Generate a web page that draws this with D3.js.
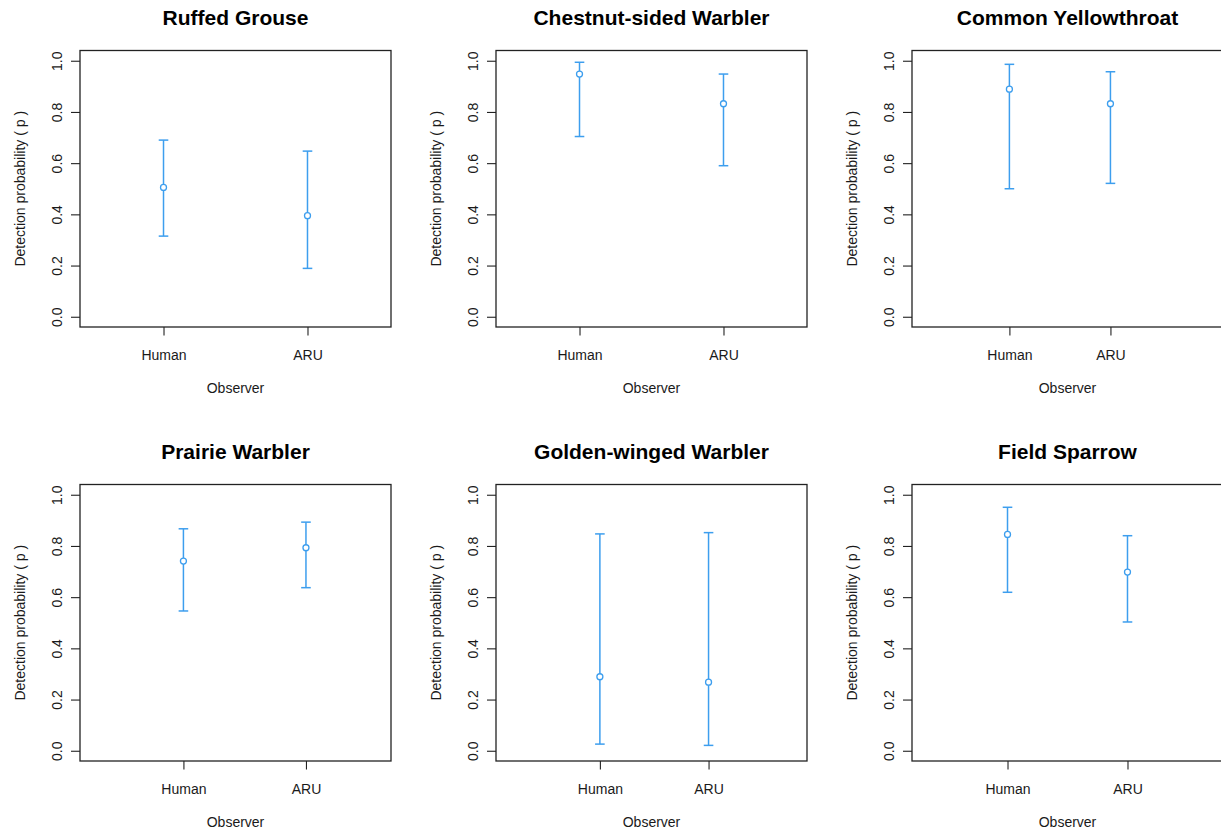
<!DOCTYPE html>
<html>
<head>
<meta charset="utf-8">
<script src="https://cdn.jsdelivr.net/npm/d3@7"></script>
<style>
  html, body { margin: 0; padding: 0; background: #ffffff; }
  svg { display: block; }
  text { font-family: "Liberation Sans", Arial, sans-serif; fill: #1a1a1a; }
</style>
</head>
<body>
<svg id="chart" width="1221" height="834"></svg>
<script>
// Detection probability estimates with confidence limits, per species and observer type
const species = [
  "Ruffed Grouse", "Chestnut-sided Warbler", "Common Yellowthroat",
  "Prairie Warbler", "Golden-winged Warbler", "Field Sparrow"
];
const observers = ["Human", "ARU"];
const estimates = [
  [0.505, 0.395],
  [0.948, 0.832],
  [0.889, 0.832],
  [0.741, 0.793],
  [0.289, 0.268],
  [0.845, 0.698]
];
const lowerCI = [
  [0.315, 0.189],
  [0.704, 0.590],
  [0.500, 0.521],
  [0.546, 0.637],
  [0.026, 0.021],
  [0.619, 0.503]
];
const upperCI = [
  [0.690, 0.647],
  [0.994, 0.948],
  [0.986, 0.957],
  [0.867, 0.893],
  [0.847, 0.852],
  [0.951, 0.840]
];
// x-limits of each panel (observer positions are 1 and 2)
const xLimits = [
  [0.5, 2.5], [0.5, 2.5], [0.15, 3.0],
  [0.25, 2.6], [0.15, 2.8], [0.3, 2.7]
];
const yTicks = [0, 0.2, 0.4, 0.6, 0.8, 1.0];
const yLimits = [0, 1];

const svg = d3.select("#chart");
svg.append("rect").attr("width", 1221).attr("height", 834).attr("fill", "#ffffff");

const colStep = 416, rowStep = 434;
const boxLeft0 = 80, boxTop0 = 50.5;
const boxW = 311, boxH = 276.5;
const markColor = "#3d9eee";
const fontSize = 14;

// extend a range by 4% on each side, like base graphics
function padded(lim) {
  const r = lim[1] - lim[0];
  return [lim[0] - 0.04 * r, lim[1] + 0.04 * r];
}

species.forEach((name, i) => {
  const col = i % 3, row = Math.floor(i / 3);
  const left = boxLeft0 + col * colStep;
  const top = boxTop0 + row * rowStep;

  const x = d3.scaleLinear().domain(padded(xLimits[i])).range([left, left + boxW]);
  const y = d3.scaleLinear().domain(padded(yLimits)).range([top + boxH, top]);

  const g = svg.append("g");

  // title
  g.append("text")
    .attr("x", left + boxW / 2)
    .attr("y", top - 25.5)
    .attr("text-anchor", "middle")
    .style("font-size", "21px")
    .style("font-weight", "bold")
    .style("fill", "#000")
    .text(name);

  // y axis
  const yAxis = g.append("g")
    .attr("transform", `translate(${left},0)`)
    .call(d3.axisLeft(y).tickValues(yTicks).tickSize(9).tickFormat(d3.format(".1f")));
  yAxis.select(".domain").remove();
  yAxis.selectAll(".tick line").attr("stroke", "#222").attr("stroke-width", 1.1);
  yAxis.selectAll(".tick text")
    .attr("x", 0).attr("y", -18).attr("dy", null)
    .attr("transform", "rotate(-90)")
    .attr("text-anchor", "middle")
    .style("font-size", fontSize + "px")
    .style("font-family", '"Liberation Sans", Arial, sans-serif')
    .attr("fill", "#1a1a1a");

  // x axis
  const xAxis = g.append("g")
    .attr("transform", `translate(0,${top + boxH})`)
    .call(d3.axisBottom(x).tickValues([1, 2]).tickSize(8.5)
      .tickFormat(d => observers[d - 1]));
  xAxis.select(".domain").remove();
  xAxis.selectAll(".tick line").attr("stroke", "#222").attr("stroke-width", 1.1);
  xAxis.selectAll(".tick text")
    .attr("y", 33).attr("dy", null)
    .style("font-size", fontSize + "px")
    .style("font-family", '"Liberation Sans", Arial, sans-serif')
    .attr("fill", "#1a1a1a");

  // axis titles
  g.append("text")
    .attr("x", left + boxW / 2)
    .attr("y", top + boxH + 66)
    .attr("text-anchor", "middle")
    .style("font-size", fontSize + "px")
    .text("Observer");
  g.append("text")
    .attr("transform", `translate(${left - 55},${top + boxH / 2}) rotate(-90)`)
    .attr("text-anchor", "middle")
    .style("font-size", fontSize + "px")
    .text("Detection probability ( p )");

  // plot box
  g.append("rect")
    .attr("x", left).attr("y", top)
    .attr("width", boxW).attr("height", boxH)
    .attr("fill", "none")
    .attr("stroke", "#222")
    .attr("stroke-width", 1.3);

  // error bars with point estimates
  const rows = observers.map((o, j) => ({
    pos: j + 1, est: estimates[i][j], lo: lowerCI[i][j], hi: upperCI[i][j]
  }));
  const bars = g.append("g")
    .attr("stroke", markColor)
    .attr("stroke-width", 1.5)
    .attr("fill", "none");
  bars.selectAll("line.ci").data(rows).join("line").attr("class", "ci")
    .attr("x1", d => x(d.pos)).attr("x2", d => x(d.pos))
    .attr("y1", d => y(d.lo)).attr("y2", d => y(d.hi));
  bars.selectAll("line.capHi").data(rows).join("line").attr("class", "capHi")
    .attr("x1", d => x(d.pos) - 4.8).attr("x2", d => x(d.pos) + 4.8)
    .attr("y1", d => y(d.hi)).attr("y2", d => y(d.hi));
  bars.selectAll("line.capLo").data(rows).join("line").attr("class", "capLo")
    .attr("x1", d => x(d.pos) - 4.8).attr("x2", d => x(d.pos) + 4.8)
    .attr("y1", d => y(d.lo)).attr("y2", d => y(d.lo));
  bars.selectAll("circle").data(rows).join("circle")
    .attr("cx", d => x(d.pos)).attr("cy", d => y(d.est))
    .attr("r", 3)
    .attr("fill", "#ffffff")
    .attr("stroke-width", 1.3);
});
</script>
</body>
</html>
